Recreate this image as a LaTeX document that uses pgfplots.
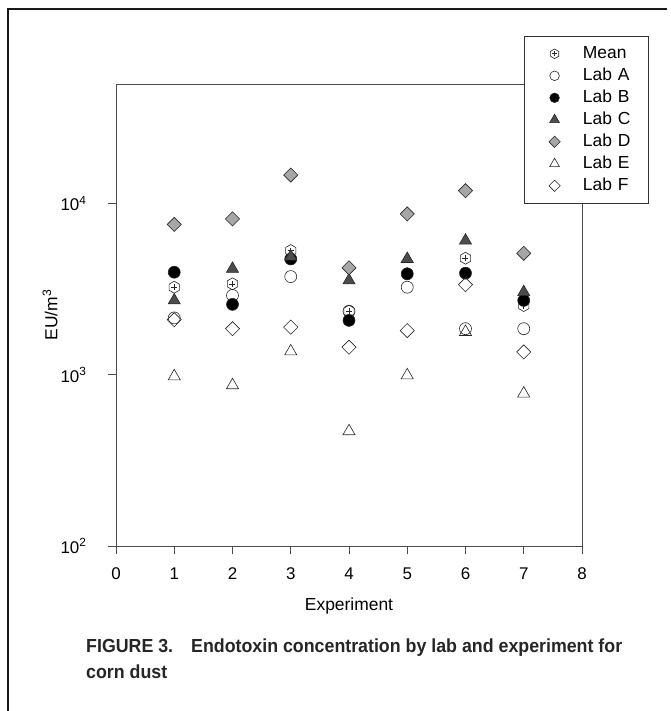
\documentclass[border=0pt]{standalone}
\usepackage{fontspec}
\setmainfont{Liberation Sans}
\newfontfamily\capfont[FakeStretch=0.94]{Liberation Sans}
\usepackage{pgfplots}
\usepackage{pgfplotstable}
\pgfplotsset{compat=1.18}

\pgfdeclareplotmark{hexplus}{%
 \pgfpathmoveto{\pgfqpointpolar{90}{\pgfplotmarksize}}%
 \pgfpathlineto{\pgfqpointpolar{150}{\pgfplotmarksize}}%
 \pgfpathlineto{\pgfqpointpolar{210}{\pgfplotmarksize}}%
 \pgfpathlineto{\pgfqpointpolar{270}{\pgfplotmarksize}}%
 \pgfpathlineto{\pgfqpointpolar{330}{\pgfplotmarksize}}%
 \pgfpathlineto{\pgfqpointpolar{30}{\pgfplotmarksize}}%
 \pgfpathclose
 \pgfusepathqfillstroke
 \pgfpathmoveto{\pgfqpoint{-0.5\pgfplotmarksize}{0pt}}%
 \pgfpathlineto{\pgfqpoint{0.5\pgfplotmarksize}{0pt}}%
 \pgfpathmoveto{\pgfqpoint{0pt}{-0.5\pgfplotmarksize}}%
 \pgfpathlineto{\pgfqpoint{0pt}{0.5\pgfplotmarksize}}%
 \pgfusepathqstroke
}

\pgfplotstableread{
x Mean A B C D E F
1 3250 2150 3975 2720 7560 980 2100
2 3400 2910 2580 4160 8150 869 1860
3 5320 3750 4750 4900 14700 1370 1900
4 2355 2350 2080 3560 4220 468 1450
5 3900 3250 3890 4750 8710 993 1815
6 4800 1860 3925 6080 11900 1780 3360
7 2540 1860 2720 3040 5130 777 1360
}\data

\begin{document}
\begin{tikzpicture}
\path[use as bounding box] (0bp,0bp) rectangle (671bp,-711bp);
\draw[line width=2.4bp, black!90] (8bp,-711bp) -- (8bp,-9bp) -- (667bp,-9bp);
\begin{axis}[
 at={(116bp,-546bp)}, anchor=south west,
 scale only axis, width=466bp, height=462bp,
 xmin=0, xmax=8, ymode=log, ymin=100, ymax=50000,
 xtick={0,1,...,8}, ytick={100,1000,10000},
 yticklabels={10\textsuperscript{2},10\textsuperscript{3},10\textsuperscript{4}},
 yminorticks=false,
 tick align=outside, tick pos=left, major tick length=8bp,
 axis line style={black!70, line width=0.8bp},
 every tick/.style={black!70, line width=0.8bp},
 tick label style={font=\fontsize{17}{20}\selectfont},
 /pgf/number format/assume math mode=true,
 xticklabel style={anchor=center, yshift=-20bp},
 yticklabel style={anchor=east, xshift=-18bp},
 xlabel={Experiment}, ylabel={EU/m\textsuperscript{3}},
 label style={font=\fontsize{17.5}{20}\selectfont},
 xlabel style={at={(axis description cs:0.5,-0.13)}, anchor=center},
 ylabel style={at={(axis description cs:-0.1416,0.5)}, anchor=center},
 clip=false,
 every axis plot/.append style={only marks, line width=0.6bp, black!85,
   legend image code/.code={\path (-30bp,0bp) (8bp,0bp); \draw[##1, /tikz/every mark/.append style={scale=0.8}] plot coordinates {(0bp,0bp)};}},
 legend style={at={(rel axis cs:0.8755,1.1039)}, anchor=north west,
   draw=black!80, line width=0.6bp, fill=white,
   font=\fontsize{17.5}{20}\selectfont,
   inner xsep=0bp, inner ysep=9bp, row sep=5bp, column sep=20bp,
   nodes={text width=65bp, align=left, inner xsep=0bp, inner ysep=0bp, text height=13bp, text depth=4bp}},
 legend cell align=left,
]
\addplot[mark=hexplus, mark size=6bp, mark options={fill=white}] table[x=x,y=Mean] {\data};
\addlegendentry{Mean}
\addplot[mark=o, mark size=6bp] table[x=x,y=A] {\data};
\addlegendentry{Lab A}
\addplot[mark=*, mark size=6bp, mark options={fill=black}] table[x=x,y=B] {\data};
\addlegendentry{Lab B}
\addplot[mark=triangle*, mark size=7bp, mark options={fill=black!70}] table[x=x,y=C] {\data};
\addlegendentry{Lab C}
\addplot[mark=square*, mark size=5bp, mark options={rotate=45, fill=black!35}] table[x=x,y=D] {\data};
\addlegendentry{Lab D}
\addplot[mark=triangle, mark size=7bp] table[x=x,y=E] {\data};
\addlegendentry{Lab E}
\addplot[mark=square, mark size=5bp, mark options={rotate=45}] table[x=x,y=F] {\data};
\addlegendentry{Lab F}
\end{axis}
\node[anchor=west, inner sep=0pt, font=\capfont\bfseries\fontsize{19}{22}\selectfont, black!85] at (86bp,-648bp) {FIGURE 3.\hspace{0.6em} Endotoxin concentration by lab and experiment for};
\node[anchor=west, inner sep=0pt, font=\capfont\bfseries\fontsize{19}{22}\selectfont, black!85] at (86bp,-672bp) {corn dust};
\end{tikzpicture}
\end{document}
